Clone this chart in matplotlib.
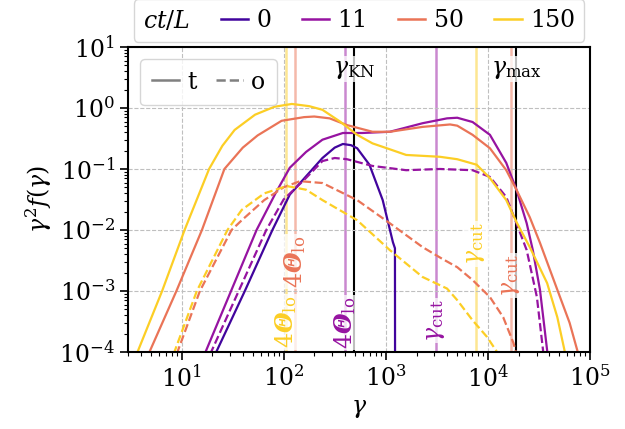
import io
import numpy as np
import matplotlib
matplotlib.use("Agg")
import matplotlib.pyplot as plt
from matplotlib.lines import Line2D
from matplotlib.offsetbox import HPacker

plt.rcParams['font.family'] = 'DejaVu Serif'
plt.rcParams['mathtext.fontset'] = 'dejavuserif'
plt.rcParams['font.size'] = 17

# ct/L snapshots
times = ['0', '11', '50', '150']
cols = [plt.cm.plasma(v) for v in (0.1, 0.32, 0.65, 0.9)]

# curves, stored as log10(gamma), log10(gamma^2 f)
# "t" (solid)
t_lg = {
    '0':   [1.25, 1.34, 1.62, 1.89, 2.06, 2.22, 2.38, 2.50, 2.58, 2.66, 2.72, 2.84, 2.97, 3.07, 3.09, 3.092],
    '11':  [1.15, 1.235, 1.485, 1.735, 1.92, 2.06, 2.22, 2.38, 2.58, 2.77, 3.04, 3.36, 3.60, 3.70, 3.85, 4.02, 4.18, 4.28, 4.38, 4.44, 4.51, 4.58, 4.60],
    '50':  [0.60, 0.686, 0.95, 1.20, 1.42, 1.60, 1.745, 1.98, 2.20, 2.30, 2.45, 2.62, 2.87, 3.04, 3.36, 3.63, 3.70, 3.85, 4.02, 4.18, 4.28, 4.41, 4.51, 4.68, 4.80, 4.88, 4.92],
    '150': [0.48, 0.569, 0.81, 1.03, 1.27, 1.40, 1.52, 1.72, 1.91, 2.08, 2.25, 2.38, 2.55, 2.72, 2.87, 3.01, 3.20, 3.53, 3.70, 3.89, 4.02, 4.18, 4.28, 4.41, 4.58, 4.68, 4.75, 4.80],
}
t_lf = {
    '0':   [-4.3, -4.0, -3.0, -2.0, -1.42, -1.12, -0.82, -0.65, -0.59, -0.61, -0.66, -0.93, -1.51, -2.20, -2.30, -6.0],
    '11':  [-4.4, -4.0, -3.0, -2.0, -1.40, -0.98, -0.72, -0.52, -0.41, -0.41, -0.39, -0.25, -0.17, -0.16, -0.23, -0.44, -0.90, -1.34, -1.89, -2.33, -2.98, -3.97, -4.4],
    '50':  [-4.4, -4.0, -3.0, -2.0, -1.0, -0.65, -0.45, -0.21, -0.15, -0.14, -0.17, -0.28, -0.39, -0.39, -0.31, -0.27, -0.29, -0.44, -0.66, -1.02, -1.34, -1.79, -2.21, -2.98, -3.52, -4.0, -4.4],
    '150': [-4.4, -4.0, -3.0, -2.0, -1.0, -0.62, -0.36, -0.11, 0.02, 0.066, 0.03, -0.03, -0.22, -0.44, -0.58, -0.66, -0.77, -0.80, -0.84, -0.93, -1.15, -1.51, -1.87, -2.28, -2.87, -3.43, -3.97, -4.4],
}
# "o" (dashed)
o_lg = {
    '11':  [1.20, 1.29, 1.56, 1.83, 2.00, 2.20, 2.38, 2.50, 2.62, 2.87, 3.20, 3.53, 3.85, 4.02, 4.18, 4.28, 4.38, 4.48, 4.54, 4.56],
    '50':  [0.88, 0.96, 1.18, 1.49, 1.59, 1.81, 2.00, 2.16, 2.38, 2.72, 3.04, 3.36, 3.55, 3.70, 3.85, 4.02, 4.15, 4.25, 4.29],
    '150': [0.85, 0.93, 1.15, 1.45, 1.59, 1.81, 2.03, 2.22, 2.38, 2.72, 3.04, 3.36, 3.60, 3.70, 3.85, 3.99, 4.09, 4.15],
}
o_lf = {
    '11':  [-4.4, -4.0, -3.0, -2.0, -1.50, -1.18, -0.87, -0.82, -0.84, -0.95, -1.02, -1.00, -1.02, -1.13, -1.46, -1.89, -2.33, -3.10, -3.97, -4.4],
    '50':  [-4.4, -4.0, -3.0, -2.0, -1.84, -1.51, -1.30, -1.20, -1.23, -1.51, -1.89, -2.28, -2.47, -2.61, -2.82, -3.10, -3.43, -3.85, -4.1],
    '150': [-4.4, -4.0, -3.0, -2.0, -1.67, -1.40, -1.28, -1.34, -1.51, -1.84, -2.33, -2.77, -2.96, -3.15, -3.48, -3.75, -4.00, -4.3],
}

# characteristic Lorentz factors
theta_lo = {'11': 396, '50': 128, '150': 105}
gamma_cut = {'11': 3100, '50': 16700, '150': 7600}
gamma_KN = 485
gamma_max = 19000
# heights of the rotated labels (y value of their centre)
theta_lab_y = {'11': 3.0e-4, '50': 3.0e-3, '150': 3.1e-4}
cut_lab_y = {'11': 3.3e-4, '50': 1.8e-3, '150': 5.9e-3}

# italic capital theta (mathit forces Greek capitals upright)
theta_lab = r'$4\mathbfit{\Theta}_{\rm lo}$'
try:
    matplotlib.mathtext.math_to_image(theta_lab, io.BytesIO())
except Exception:
    theta_lab = r'$4\Theta_{\rm lo}$'

fig = plt.figure(figsize=(6.25, 4.29), dpi=100)
ax = fig.add_axes([0.205, 0.1795, 0.739, 0.711])

box = dict(facecolor='white', edgecolor='none', alpha=0.75, pad=1.0)

for name, c in zip(times, cols):
    if name in theta_lo:
        ax.axvline(theta_lo[name], color=c, alpha=0.5, lw=1.8, zorder=1)
        ax.axvline(gamma_cut[name], color=c, alpha=0.5, lw=1.8, zorder=1)
        ax.text(theta_lo[name], theta_lab_y[name], theta_lab, color=c,
                rotation=90, ha='center', va='center', bbox=box, zorder=3)
        ax.text(gamma_cut[name], cut_lab_y[name], r'$\gamma_{\rm cut}$', color=c,
                rotation=90, ha='center', va='center', bbox=box, zorder=3)

ax.axvline(gamma_KN, color='k', lw=1.5, zorder=1)
ax.axvline(gamma_max, color='k', lw=1.5, zorder=1)
ax.text(gamma_KN, 4.3, r'$\gamma_{\rm KN}$', ha='center', va='center', bbox=box, zorder=3)
ax.text(gamma_max, 4.3, r'$\gamma_{\rm max}$', ha='center', va='center', bbox=box, zorder=3)

for name, c in zip(times, cols):
    ax.plot(10**np.array(t_lg[name]), 10**np.array(t_lf[name]), color=c, lw=1.6, zorder=2)
    if name in o_lg:
        ax.plot(10**np.array(o_lg[name]), 10**np.array(o_lf[name]), color=c, lw=1.6, ls='--', zorder=2)

ax.set_xscale('log')
ax.set_yscale('log')
ax.set_xlim(3, 1e5)
ax.set_ylim(1e-4, 1e1)
ax.set_xticks([1e1, 1e2, 1e3, 1e4, 1e5])
ax.set_yticks([1e-4, 1e-3, 1e-2, 1e-1, 1e0, 1e1])
ax.yaxis.set_minor_locator(matplotlib.ticker.LogLocator(subs=np.arange(2, 10), numticks=20))
ax.yaxis.set_minor_formatter(matplotlib.ticker.NullFormatter())
ax.grid(True, which='major', ls='--', color='0.75', lw=0.8)
ax.tick_params(which='major', length=6, width=1.2)
ax.tick_params(which='minor', length=3, width=0.8)
for s in ax.spines.values():
    s.set_linewidth(1.5)
ax.set_xlabel(r'$\gamma$', labelpad=4)
ax.set_ylabel(r'$\gamma^2 f(\gamma)$', labelpad=4)

# style legend inside
style_h = [Line2D([], [], color='0.5', lw=1.8), Line2D([], [], color='0.5', lw=1.8, ls='--')]
leg1 = ax.legend(style_h, ['t', 'o'], loc='upper left', ncol=2, handlelength=1.15,
                 handletextpad=0.35, columnspacing=0.8, borderpad=0.5, borderaxespad=0.5,
                 framealpha=0.8)
ax.add_artist(leg1)

# time legend above, title on the left
time_h = [Line2D([], [], color=c, lw=1.8) for c in cols]
leg2 = ax.legend(time_h, times, loc='lower center', bbox_to_anchor=(0.5, 1.016), ncol=4,
                 handlelength=1.15, handletextpad=0.35, columnspacing=1.3, borderpad=0.4,
                 borderaxespad=0, title=r'$ct/L$', title_fontsize=17, framealpha=0.8)
fs = leg2._fontsize
newbox = HPacker(pad=leg2.borderpad * fs, sep=1.3 * fs, align='center',
                 children=[leg2._legend_title_box, leg2._legend_handle_box])
newbox.set_figure(fig)
newbox.axes = ax
leg2._legend_box = newbox
newbox.set_offset(leg2._findoffset)

fig.savefig('out.png', dpi=100)
